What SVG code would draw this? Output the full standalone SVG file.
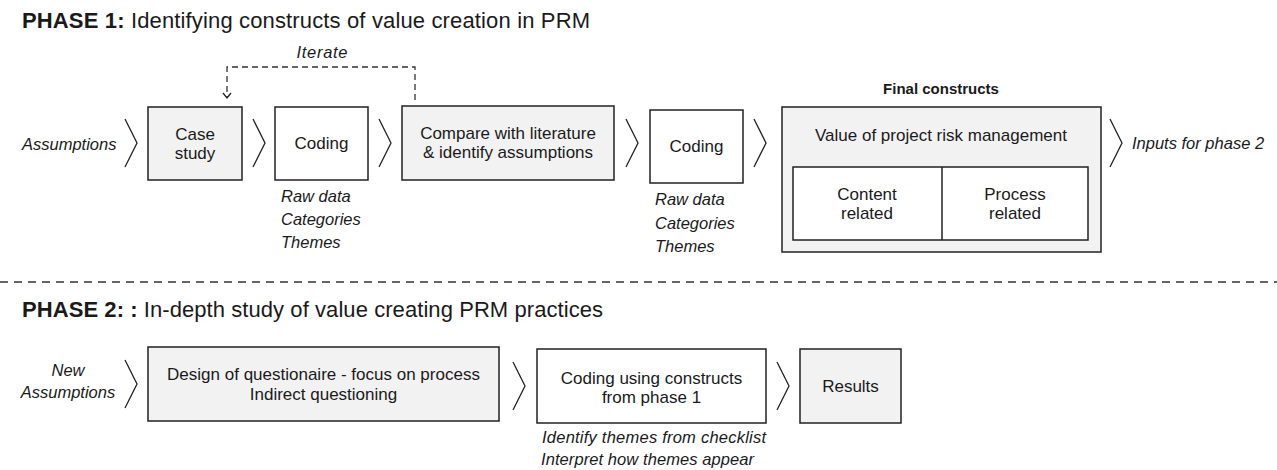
<svg xmlns="http://www.w3.org/2000/svg" width="1277" height="470" viewBox="0 0 1277 470">
<defs>
<style>
text{font-family:"Liberation Sans",Arial,sans-serif;fill:#1a1a1a}
.t{font-size:22px}
.tb{font-weight:bold}
.n{font-size:17px;text-anchor:middle}
.i{font-size:16.5px;font-style:italic}
.ic{font-size:16.5px;font-style:italic;text-anchor:middle}
.hb{font-size:15px;font-weight:bold;text-anchor:middle}
.g{fill:#f2f2f2;stroke:#222;stroke-width:1.5}
.w{fill:#fff;stroke:#222;stroke-width:1.5}
.ch{fill:none;stroke:#222;stroke-width:1.3}
.dash{fill:none;stroke:#333;stroke-width:1.3;stroke-dasharray:6 4}
.sep{fill:none;stroke:#333;stroke-width:1.3;stroke-dasharray:8 6}
</style>
</defs>
<rect width="1277" height="470" fill="#fff"/>

<text class="t" x="22" y="28" textLength="568"><tspan class="tb">PHASE 1:</tspan> Identifying constructs of value creation in PRM</text>
<text class="t" x="22" y="317" textLength="581"><tspan class="tb">PHASE 2: :</tspan> In-depth study of value creating PRM practices</text>
<line class="sep" x1="0" y1="282" x2="1277" y2="282"/>

<g id="connectors">
<polyline class="ch" points="125,119 137,143 125,167"/>
<polyline class="ch" points="253,119 265,143 253,167"/>
<polyline class="ch" points="379,119 391,143 379,167"/>
<polyline class="ch" points="626,119 638,143 626,167"/>
<polyline class="ch" points="754,119 766,143 754,167"/>
<polyline class="ch" points="1110,119 1122,143 1110,167"/>
<polyline class="dash" points="415,100 415,67 227,67 227,97"/>
<polyline class="ch" points="223,93 227,98 231,93"/>
<text class="ic" x="322" y="58" textLength="51">Iterate</text>
<polyline class="ch" points="125,360 137,384 125,408"/>
<polyline class="ch" points="513,362 525,386 513,410"/>
<polyline class="ch" points="777,362 789,386 777,410"/>
</g>

<g id="assumptions">
<text class="i" x="22" y="150">Assumptions</text>
</g>
<g id="case-study">
<rect class="g" x="148" y="107" width="94" height="73"/>
<text class="n" x="195" y="140">Case</text>
<text class="n" x="195" y="159">study</text>
</g>
<g id="coding1">
<rect class="w" x="275" y="107" width="93" height="73"/>
<text class="n" x="321.5" y="149">Coding</text>
<text class="i" x="281" y="202">Raw data</text>
<text class="i" x="281" y="225">Categories</text>
<text class="i" x="281" y="248">Themes</text>
</g>
<g id="compare">
<rect class="g" x="402" y="106" width="212" height="74"/>
<text class="n" x="508" y="139">Compare with literature</text>
<text class="n" x="508" y="158">&amp; identify assumptions</text>
</g>
<g id="coding2">
<rect class="w" x="650" y="110" width="93" height="73"/>
<text class="n" x="696.5" y="152">Coding</text>
<text class="i" x="655" y="205">Raw data</text>
<text class="i" x="655" y="229">Categories</text>
<text class="i" x="655" y="252">Themes</text>
</g>
<g id="final-constructs">
<text class="hb" x="941" y="94">Final constructs</text>
<rect class="g" x="782" y="107" width="319" height="145"/>
<text class="n" x="941" y="141">Value of project risk management</text>
<rect class="w" x="793" y="167" width="295" height="73"/>
<line x1="942" y1="167" x2="942" y2="240" stroke="#222" stroke-width="1.5"/>
<text class="n" x="867" y="200">Content</text>
<text class="n" x="867" y="219">related</text>
<text class="n" x="1015" y="200">Process</text>
<text class="n" x="1015" y="219">related</text>
</g>
<g id="inputs-phase2">
<text class="i" x="1132" y="149">Inputs for phase 2</text>
</g>

<g id="new-assumptions">
<text class="ic" x="68" y="376">New</text>
<text class="ic" x="68" y="398">Assumptions</text>
</g>
<g id="design">
<rect class="g" x="148" y="347" width="351" height="74"/>
<text class="n" x="323.5" y="380">Design of questionaire - focus on process</text>
<text class="n" x="323.5" y="400">Indirect questioning</text>
</g>
<g id="coding-constructs">
<rect class="w" x="537" y="349" width="229" height="74"/>
<text class="n" x="651.5" y="384">Coding using constructs</text>
<text class="n" x="651.5" y="403">from phase 1</text>
<text class="i" x="542" y="443" textLength="224">Identify themes from checklist</text>
<text class="i" x="541" y="465" textLength="213">Interpret how themes appear</text>
</g>
<g id="results">
<rect class="g" x="800" y="349" width="101" height="74"/>
<text class="n" x="850.5" y="392">Results</text>
</g>
</svg>
